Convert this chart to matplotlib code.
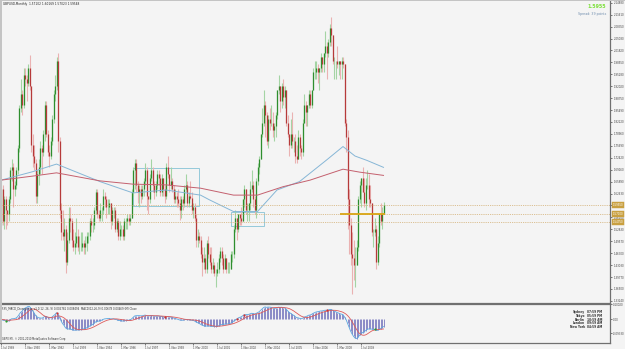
import numpy as np
import pandas as pd
import matplotlib
matplotlib.use("Agg")
import matplotlib.pyplot as plt
from matplotlib.patches import Rectangle

# GBPUSD monthly bars, Jul 1989 .. Oct 2010
months = pd.date_range("1989-07-01", "2010-10-01", freq="MS")

opens = [
    1.540, 1.640, 1.550, 1.610, 1.580, 1.570,
    1.610, 1.690, 1.700, 1.640, 1.650, 1.690, 1.750, 1.860, 1.900, 1.870, 1.950, 1.940,
    1.930, 1.970, 1.920, 1.760, 1.730, 1.710, 1.620, 1.680, 1.700, 1.750, 1.740, 1.790,
    1.870, 1.790, 1.740, 1.730, 1.770, 1.830, 1.900, 1.920, 1.990, 1.770, 1.580, 1.520,
    1.510, 1.530, 1.440, 1.500, 1.560, 1.550, 1.500, 1.480, 1.490, 1.510, 1.480, 1.480,
    1.480, 1.490, 1.480, 1.490, 1.510, 1.510, 1.550, 1.540, 1.540, 1.580, 1.630, 1.570,
    1.560, 1.580, 1.580, 1.620, 1.610, 1.590, 1.590, 1.600, 1.550, 1.580, 1.580, 1.530,
    1.550, 1.510, 1.530, 1.530, 1.510, 1.550, 1.550, 1.560, 1.550, 1.560, 1.630, 1.690,
    1.710, 1.650, 1.630, 1.640, 1.620, 1.640, 1.660, 1.690, 1.620, 1.610, 1.670, 1.690,
    1.650, 1.630, 1.650, 1.680, 1.670, 1.630, 1.670, 1.640, 1.620, 1.700, 1.680, 1.650,
    1.660, 1.640, 1.610, 1.620, 1.610, 1.600, 1.580, 1.610, 1.600, 1.640, 1.650, 1.600,
    1.620, 1.615, 1.580, 1.590, 1.560, 1.500, 1.510, 1.500, 1.460, 1.440, 1.450, 1.420,
    1.490, 1.460, 1.440, 1.420, 1.430, 1.410, 1.410, 1.420, 1.450, 1.470, 1.450, 1.420,
    1.450, 1.420, 1.420, 1.420, 1.460, 1.460, 1.530, 1.560, 1.530, 1.570, 1.560, 1.550,
    1.610, 1.640, 1.580, 1.580, 1.600, 1.640, 1.650, 1.610, 1.580, 1.660, 1.700, 1.720,
    1.790, 1.820, 1.870, 1.840, 1.770, 1.830, 1.820, 1.820, 1.800, 1.810, 1.840, 1.910,
    1.920, 1.880, 1.920, 1.890, 1.910, 1.820, 1.790, 1.760, 1.790, 1.770, 1.770, 1.730,
    1.720, 1.780, 1.750, 1.740, 1.820, 1.870, 1.850, 1.870, 1.900, 1.870, 1.910, 1.960,
    1.960, 1.970, 1.960, 1.970, 2.000, 1.980, 2.010, 2.030, 2.010, 2.040, 2.080, 2.060,
    1.990, 1.990, 1.990, 1.980, 1.990, 1.980, 1.990, 1.980, 1.820, 1.780, 1.610, 1.540,
    1.460, 1.450, 1.430, 1.430, 1.480, 1.610, 1.650, 1.670, 1.630, 1.600, 1.650, 1.650,
    1.610, 1.600, 1.520, 1.520, 1.530, 1.440, 1.490, 1.570, 1.550, 1.571,
]
highs = [
    1.660, 1.650, 1.620, 1.620, 1.580, 1.620,
    1.700, 1.720, 1.710, 1.660, 1.700, 1.760, 1.870, 1.940, 1.910, 1.970, 1.970, 1.950,
    1.980, 2.005, 1.920, 1.790, 1.760, 1.720, 1.690, 1.720, 1.770, 1.760, 1.800, 1.880,
    1.880, 1.800, 1.760, 1.780, 1.840, 1.910, 1.950, 2.000, 2.010, 1.780, 1.600, 1.580,
    1.560, 1.540, 1.520, 1.590, 1.590, 1.560, 1.530, 1.520, 1.560, 1.530, 1.510, 1.520,
    1.520, 1.500, 1.510, 1.520, 1.520, 1.560, 1.570, 1.560, 1.590, 1.640, 1.640, 1.580,
    1.600, 1.590, 1.640, 1.630, 1.620, 1.610, 1.610, 1.600, 1.590, 1.590, 1.590, 1.560,
    1.560, 1.550, 1.540, 1.540, 1.560, 1.560, 1.570, 1.570, 1.570, 1.640, 1.700, 1.720,
    1.720, 1.660, 1.650, 1.650, 1.650, 1.670, 1.710, 1.700, 1.620, 1.680, 1.720, 1.700,
    1.660, 1.660, 1.690, 1.690, 1.680, 1.680, 1.670, 1.650, 1.710, 1.730, 1.680, 1.700,
    1.670, 1.650, 1.640, 1.630, 1.640, 1.620, 1.620, 1.620, 1.650, 1.680, 1.660, 1.630,
    1.660, 1.630, 1.600, 1.600, 1.570, 1.530, 1.520, 1.510, 1.480, 1.480, 1.460, 1.500,
    1.510, 1.480, 1.480, 1.450, 1.440, 1.420, 1.440, 1.460, 1.480, 1.480, 1.460, 1.460,
    1.450, 1.440, 1.440, 1.470, 1.470, 1.540, 1.580, 1.560, 1.570, 1.570, 1.590, 1.610,
    1.650, 1.640, 1.600, 1.600, 1.660, 1.690, 1.660, 1.620, 1.670, 1.710, 1.730, 1.790,
    1.860, 1.910, 1.880, 1.850, 1.840, 1.860, 1.870, 1.850, 1.820, 1.850, 1.910, 1.950,
    1.920, 1.930, 1.940, 1.920, 1.910, 1.840, 1.790, 1.830, 1.850, 1.780, 1.790, 1.760,
    1.800, 1.790, 1.760, 1.830, 1.900, 1.880, 1.870, 1.910, 1.910, 1.910, 1.970, 1.990,
    1.990, 1.980, 1.970, 2.010, 2.000, 2.010, 2.070, 2.040, 2.050, 2.090, 2.110, 2.060,
    2.000, 1.990, 2.030, 1.990, 1.990, 2.000, 2.000, 1.980, 1.830, 1.800, 1.640, 1.560,
    1.520, 1.500, 1.480, 1.500, 1.620, 1.660, 1.670, 1.700, 1.670, 1.670, 1.690, 1.680,
    1.650, 1.600, 1.530, 1.560, 1.540, 1.510, 1.570, 1.600, 1.590, 1.602,
]
lows = [
    1.535, 1.540, 1.530, 1.530, 1.540, 1.550,
    1.600, 1.660, 1.590, 1.620, 1.640, 1.680, 1.740, 1.850, 1.840, 1.860, 1.920, 1.880,
    1.920, 1.910, 1.740, 1.700, 1.690, 1.600, 1.600, 1.650, 1.680, 1.680, 1.730, 1.770,
    1.780, 1.730, 1.700, 1.720, 1.760, 1.820, 1.880, 1.910, 1.740, 1.560, 1.500, 1.500,
    1.470, 1.410, 1.430, 1.490, 1.520, 1.480, 1.470, 1.460, 1.480, 1.470, 1.460, 1.470,
    1.470, 1.460, 1.460, 1.470, 1.490, 1.500, 1.520, 1.520, 1.530, 1.570, 1.560, 1.550,
    1.550, 1.550, 1.570, 1.590, 1.560, 1.570, 1.570, 1.530, 1.540, 1.560, 1.520, 1.520,
    1.500, 1.500, 1.510, 1.500, 1.500, 1.530, 1.530, 1.540, 1.540, 1.560, 1.620, 1.640,
    1.630, 1.600, 1.590, 1.600, 1.610, 1.620, 1.650, 1.580, 1.570, 1.600, 1.660, 1.630,
    1.610, 1.620, 1.640, 1.650, 1.620, 1.620, 1.620, 1.600, 1.610, 1.670, 1.630, 1.640,
    1.630, 1.600, 1.600, 1.590, 1.590, 1.555, 1.560, 1.580, 1.590, 1.630, 1.590, 1.590,
    1.610, 1.570, 1.560, 1.550, 1.480, 1.480, 1.490, 1.450, 1.400, 1.420, 1.410, 1.410,
    1.450, 1.430, 1.410, 1.410, 1.400, 1.370, 1.400, 1.410, 1.440, 1.430, 1.410, 1.420,
    1.410, 1.410, 1.410, 1.420, 1.440, 1.450, 1.520, 1.500, 1.520, 1.540, 1.540, 1.550,
    1.590, 1.570, 1.550, 1.550, 1.580, 1.630, 1.590, 1.570, 1.560, 1.650, 1.680, 1.720,
    1.780, 1.810, 1.780, 1.760, 1.750, 1.800, 1.810, 1.780, 1.770, 1.780, 1.830, 1.900,
    1.850, 1.860, 1.870, 1.860, 1.810, 1.780, 1.730, 1.750, 1.750, 1.740, 1.710, 1.710,
    1.720, 1.730, 1.720, 1.730, 1.820, 1.810, 1.810, 1.860, 1.860, 1.860, 1.910, 1.940,
    1.940, 1.930, 1.910, 1.960, 1.960, 1.960, 2.000, 1.940, 2.000, 2.030, 2.030, 1.980,
    1.940, 1.940, 1.970, 1.950, 1.940, 1.940, 1.970, 1.810, 1.740, 1.530, 1.460, 1.430,
    1.350, 1.390, 1.370, 1.430, 1.470, 1.600, 1.590, 1.630, 1.590, 1.580, 1.640, 1.590,
    1.590, 1.510, 1.480, 1.510, 1.420, 1.430, 1.480, 1.540, 1.530, 1.570,
]
closes = [
    1.640, 1.550, 1.610, 1.580, 1.570, 1.610,
    1.690, 1.700, 1.640, 1.650, 1.690, 1.750, 1.860, 1.900, 1.870, 1.950, 1.940, 1.930,
    1.970, 1.920, 1.760, 1.730, 1.710, 1.620, 1.680, 1.700, 1.750, 1.740, 1.790, 1.870,
    1.790, 1.740, 1.730, 1.770, 1.830, 1.900, 1.920, 1.990, 1.770, 1.580, 1.520, 1.510,
    1.530, 1.440, 1.500, 1.560, 1.550, 1.500, 1.480, 1.490, 1.510, 1.480, 1.480, 1.480,
    1.490, 1.480, 1.490, 1.510, 1.510, 1.550, 1.540, 1.540, 1.580, 1.630, 1.570, 1.560,
    1.580, 1.580, 1.620, 1.610, 1.590, 1.590, 1.600, 1.550, 1.580, 1.580, 1.530, 1.550,
    1.510, 1.530, 1.530, 1.510, 1.550, 1.550, 1.560, 1.550, 1.560, 1.630, 1.690, 1.710,
    1.650, 1.630, 1.640, 1.620, 1.640, 1.660, 1.690, 1.620, 1.610, 1.670, 1.690, 1.650,
    1.630, 1.650, 1.680, 1.670, 1.630, 1.670, 1.640, 1.620, 1.700, 1.680, 1.650, 1.660,
    1.640, 1.610, 1.620, 1.610, 1.600, 1.580, 1.610, 1.600, 1.640, 1.650, 1.600, 1.620,
    1.615, 1.580, 1.590, 1.560, 1.500, 1.510, 1.500, 1.460, 1.440, 1.450, 1.420, 1.490,
    1.460, 1.440, 1.420, 1.430, 1.410, 1.410, 1.420, 1.450, 1.470, 1.450, 1.420, 1.450,
    1.420, 1.420, 1.420, 1.460, 1.460, 1.530, 1.560, 1.530, 1.570, 1.560, 1.550, 1.610,
    1.640, 1.580, 1.580, 1.600, 1.640, 1.650, 1.610, 1.580, 1.660, 1.700, 1.720, 1.790,
    1.820, 1.870, 1.840, 1.770, 1.830, 1.820, 1.820, 1.800, 1.810, 1.840, 1.910, 1.920,
    1.880, 1.920, 1.890, 1.910, 1.820, 1.790, 1.760, 1.790, 1.770, 1.770, 1.730, 1.720,
    1.780, 1.750, 1.740, 1.820, 1.870, 1.850, 1.870, 1.900, 1.870, 1.910, 1.960, 1.960,
    1.970, 1.960, 1.970, 2.000, 1.980, 2.010, 2.030, 2.010, 2.040, 2.080, 2.060, 1.990,
    1.990, 1.990, 1.980, 1.990, 1.980, 1.990, 1.980, 1.820, 1.780, 1.610, 1.540, 1.460,
    1.450, 1.430, 1.430, 1.480, 1.610, 1.650, 1.670, 1.630, 1.600, 1.650, 1.650, 1.610,
    1.600, 1.520, 1.520, 1.530, 1.440, 1.490, 1.570, 1.550, 1.571, 1.5955,
]

# moving averages, sampled along the drawn lines
ma_blue_dates = ["1989-07", "1991-04", "1992-08", "1995-01", "1996-11", "1998-09",
                 "2000-08", "2001-02", "2002-06", "2003-10", "2004-11", "2006-02",
                 "2007-08", "2008-07", "2009-03", "2009-11", "2010-10"]
ma_blue = [1.663, 1.686, 1.707, 1.659, 1.628, 1.636, 1.622, 1.609, 1.577, 1.577,
           1.636, 1.659, 1.718, 1.755, 1.729, 1.717, 1.698]
ma_red_dates = ["1989-07", "1991-04", "1992-08", "1995-01", "1996-11", "1998-09",
                "2000-08", "2002-06", "2003-10", "2005-03", "2006-09", "2008-07",
                "2009-06", "2010-10"]
ma_red = [1.663, 1.674, 1.683, 1.661, 1.652, 1.650, 1.641, 1.622, 1.622, 1.645,
          1.663, 1.693, 1.685, 1.676]

# user objects on the chart
boxes = [("1996-11", "2000-07", 1.5922, 1.6962), ("2002-04", "2004-02", 1.5374, 1.5757)]
level_line = ("2008-05", "2010-10", 1.5710)
dotted_levels = [1.5955, 1.5710, 1.5475]
dotted_labels = ["1.59550", "1.57100", "1.54750"]
div_peaks = ["1992-08", "1998-08", "2002-08", "2003-01", "2007-08"]
div_troughs = ["1989-10", "2010-04"]

price_ticks = [2.1488, 2.1161, 2.0835, 2.0508, 2.0182, 1.9855, 1.9528, 1.9202, 1.8875,
               1.8549, 1.8222, 1.7896, 1.7569, 1.7242, 1.6916, 1.6589, 1.6263, 1.5936,
               1.5610, 1.5283, 1.4957, 1.4630, 1.4303, 1.3977, 1.3650, 1.3324]
price_labels = ["%.5f" % v for v in price_ticks]

macd_ticks = [0.1002, 0.0, -0.0933]
macd_labels = ["0.10020", "0.00", "-0.09330"]

clock_cities = ["Sydney", "Tokyo", "Berlin", "London", "New York"]
clock_times = ["07:59 PM", "05:59 PM", "10:59 AM", "09:59 AM", "04:59 AM"]

BG = "#f4f4f4"
W, H = 625, 349


def fx(px):
    return px / W


def fy(py):
    return 1 - py / H


def pos(m):
    return months.get_loc(pd.Timestamp(m + "-01"))


fig = plt.figure(figsize=(6.25, 3.49), dpi=100)
fig.patch.set_facecolor(BG)

# main window y 1..303, indicator window y 304..343
ax = fig.add_axes([0, fy(303), fx(610), (303 - 1) / H])
ax2 = fig.add_axes([0, fy(343), fx(610), (343 - 304) / H])

x = np.arange(len(closes))
o, hi, lo, c = map(np.array, (opens, highs, lows, closes))
up = c >= o

ax.vlines(x[up], lo[up], hi[up], color="#a4d4a4", lw=0.8)
ax.vlines(x[~up], lo[~up], hi[~up], color="#eab2b2", lw=0.8)
ax.vlines(x[up], o[up], c[up], color="#2e8e2e", lw=0.9)
ax.vlines(x[~up], c[~up], o[~up], color="#b63a3a", lw=0.9)

ax.plot([pos(d) for d in ma_blue_dates], ma_blue, color="#86b6d6", lw=0.7)
ax.plot([pos(d) for d in ma_red_dates], ma_red, color="#c4606e", lw=0.7)

for d0, d1, p0, p1 in boxes:
    ax.add_patch(Rectangle((pos(d0), p0), pos(d1) - pos(d0), p1 - p0,
                           fill=False, ec="#86c2d6", lw=0.6))

for lv in dotted_levels:
    ax.axhline(lv, color="#d2ae72", lw=0.6, ls=(0, (1, 1.2)))
ax.plot([pos(level_line[0]), pos(level_line[1]) + 1], [level_line[2]] * 2,
        color="#d9a514", lw=1.3, solid_capstyle="butt")

ax.set_xlim(-0.667, 406)
ax.set_ylim(1.3266, 2.1535)
ax.set_facecolor(BG)
ax.set_xticks([])
ax.yaxis.tick_right()
ax.set_yticks(price_ticks, price_labels)
ax.tick_params(axis="y", labelsize=1.9, length=1.6, width=0.5, pad=0.8,
               colors="#444444")
for s in ["left", "top"]:
    ax.spines[s].set_visible(False)
for s in ["right", "bottom"]:
    ax.spines[s].set_color("#707070")
    ax.spines[s].set_linewidth(0.9)

# gold price boxes on the axis
for lv, lab in zip(dotted_levels, dotted_labels):
    ax.text(1.004, lv, lab, transform=ax.get_yaxis_transform(), fontsize=1.9,
            color="white", va="center", ha="left",
            bbox=dict(boxstyle="square,pad=0.35", fc="#c9a040", ec="#c9a040", lw=0.3),
            clip_on=False)

# MACD subwindow
s = pd.Series(closes)
macd = s.ewm(span=12, adjust=False).mean() - s.ewm(span=26, adjust=False).mean()
signal = macd.rolling(9, min_periods=1).mean()

ax2.vlines(x, 0, macd, color="#8a8ac6", lw=0.7)
ax2.plot(x, macd, color="#5aa6e0", lw=0.6)
ax2.plot(x, signal, color="#dd5a5a", lw=0.6)
pk = [pos(d) for d in div_peaks]
tr = [pos(d) for d in div_troughs]
ax2.plot(pk, macd.iloc[pk], "o", ms=1.6, color="#d03030", mew=0)
ax2.plot(tr, macd.iloc[tr], "o", ms=1.6, color="#30a030", mew=0)

ax2.set_ylim(-0.16, 0.1002)
ax2.set_xlim(-0.667, 406)
ax2.set_facecolor(BG)
ax2.yaxis.tick_right()
ax2.set_yticks(macd_ticks, macd_labels)
date_pos = list(range(0, len(months), 16))
date_labels = ["1 %s %d" % (months[i].strftime("%b"), months[i].year) for i in date_pos]
ax2.set_xticks(date_pos, date_labels)
for t in ax2.get_xticklabels():
    t.set_ha("left")
ax2.tick_params(labelsize=1.9, length=1.5, width=0.5, pad=0.8, colors="#444444")
ax2.spines["left"].set_visible(False)
for s_ in ["right", "bottom", "top"]:
    ax2.spines[s_].set_color("#707070")
    ax2.spines[s_].set_linewidth(0.9)

ax2.text(0.003, 0.93, "FX5_MACD_Divergence_v1.1(12, 26, 9) 0.006781 0.008494  "
         "MACD(12,26,9) 0.00678 0.00469 (M) Close",
         transform=ax2.transAxes, fontsize=1.9, va="top", color="#333333")
ax2.text(0.003, 0.04, "GBPX M.I. \u00a9 2001-2010 MetaQuotes Software Corp.",
         transform=ax2.transAxes, fontsize=1.8, va="bottom", color="#333333")

# header and corner texts
fig.text(fx(3), fy(4.5), "GBPUSD,Monthly  1.57102 1.60169 1.57023 1.59548",
         fontsize=2.1, va="center", color="#222222")
fig.text(fx(606), fy(7), "1.5955", fontsize=3.4, fontweight="bold",
         color="#7ee03c", ha="right", va="center")
fig.text(fx(606), fy(14), "Spread: 39 points", fontsize=2.3,
         color="#7390b0", ha="right", va="center")
for k, (city, tm) in enumerate(zip(clock_cities, clock_times)):
    yy = fy(312 + 3.8 * k)
    fig.text(fx(585), yy, city, fontsize=2.1, fontweight="bold", ha="right",
             va="center", color="#333333")
    fig.text(fx(587), yy, tm, fontsize=2.1, fontweight="bold", ha="left",
             va="center", color="#333333")

# window frame
fig.patches.append(Rectangle((0, fy(343)), fx(2), 1 - fy(343), transform=fig.transFigure,
                             fc="#c4c4c4", ec="none"))
fig.patches.append(Rectangle((0, fy(1.2)), 1, 1.2 / H, transform=fig.transFigure,
                             fc="#c4c4c4", ec="none"))

fig.savefig("out.png", dpi=100, facecolor=BG)
